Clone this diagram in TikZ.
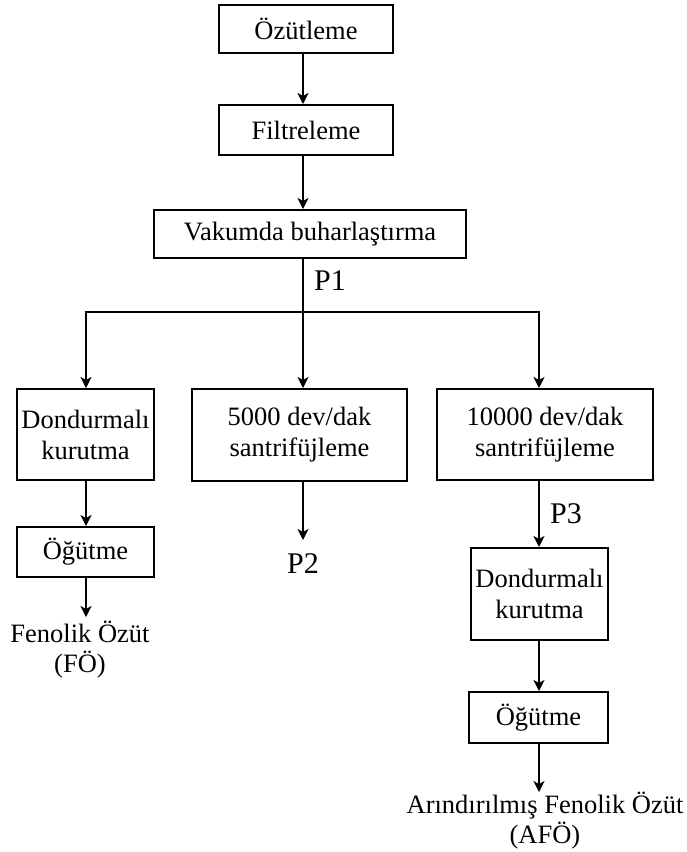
\documentclass[tikz,border=0pt]{standalone}
\usepackage{fontspec}
\setmainfont{Liberation Serif}
\usetikzlibrary{arrows.meta}
\begin{document}
\begin{tikzpicture}[x=1pt,y=-1pt,
  box/.style={draw,line width=2pt,inner sep=0pt,align=center,
    font=\fontsize{26.5}{31}\selectfont},
  arr/.style={line width=1.6pt,-{Stealth[length=11pt,width=11pt,inset=3pt]}},
  plain/.style={line width=1.6pt},
  lbl/.style={inner sep=0pt,align=center,font=\fontsize{26.5}{30}\selectfont},
  plbl/.style={inner sep=0pt,font=\fontsize{30}{34}\selectfont}]
\useasboundingbox (0,0) rectangle (686,852);
% column coordinates
\coordinate (cx) at (303,0);
\coordinate (lx) at (86,0);
\coordinate (rx) at (539,0);
% boxes
\node[box,minimum width=174pt,minimum height=48pt] (ozu) at (306,29) {Özütleme};
\node[box,minimum width=174pt,minimum height=50pt] (fil) at (306,130) {Filtreleme};
\node[box,minimum width=312pt,minimum height=48pt] (vak) at (310,234) {Vakumda buharlaştırma};
\node[box,minimum width=137pt,minimum height=91pt] (dk1) at (85.5,434.5) {Dondurmalı\\kurutma};
\node[box,minimum width=215pt,minimum height=92pt] (s5) at (299.5,435) {5000 dev/dak\\santrifüjleme};
\node[box,minimum width=216pt,minimum height=91pt] (s10) at (545,434.5) {10000 dev/dak\\santrifüjleme};
\node[box,minimum width=137pt,minimum height=50pt] (og1) at (85.5,552) {Öğütme};
\node[box,minimum width=137pt,minimum height=92pt] (dk2) at (539.5,594) {Dondurmalı\\kurutma};
\node[box,minimum width=139pt,minimum height=51pt] (og2) at (538.5,717.5) {Öğütme};
% labels
\node[plbl] (p1) at (330,281) {P1};
\node[plbl] (p2) at (303,564) {P2};
\node[plbl] (p3) at (566,514) {P3};
\node[lbl,anchor=north] (fo) at (80,621) {Fenolik Özüt\\(FÖ)};
\node[lbl,anchor=north] (afo) at (545,792) {Arındırılmış Fenolik Özüt\\(AFÖ)};
% junction coordinates
\coordinate (jc) at (303,312);
\coordinate (jl) at (86,312);
\coordinate (jr) at (539,312);
\coordinate (p2top) at (303,540);
\coordinate (fotop) at (86,617);
\coordinate (afotop) at (539,792);
% connectors
\draw[arr] (ozu.south -| cx) -- (fil.north -| cx);
\draw[arr] (fil.south -| cx) -- (vak.north -| cx);
\draw[plain] (vak.south -| cx) -- (jc);
\draw[plain,line cap=rect] (jl) -- (jr);
\draw[arr] (jl) -- (dk1.north -| lx);
\draw[arr] (jc) -- (s5.north -| cx);
\draw[arr] (jr) -- (s10.north -| rx);
\draw[arr] (dk1.south -| lx) -- (og1.north -| lx);
\draw[arr] (og1.south -| lx) -- (fotop);
\draw[arr] (s5.south -| cx) -- (p2top);
\draw[arr] (s10.south -| rx) -- (dk2.north -| rx);
\draw[arr] (dk2.south -| rx) -- (og2.north -| rx);
\draw[arr] (og2.south -| rx) -- (afotop);
\end{tikzpicture}
\end{document}
